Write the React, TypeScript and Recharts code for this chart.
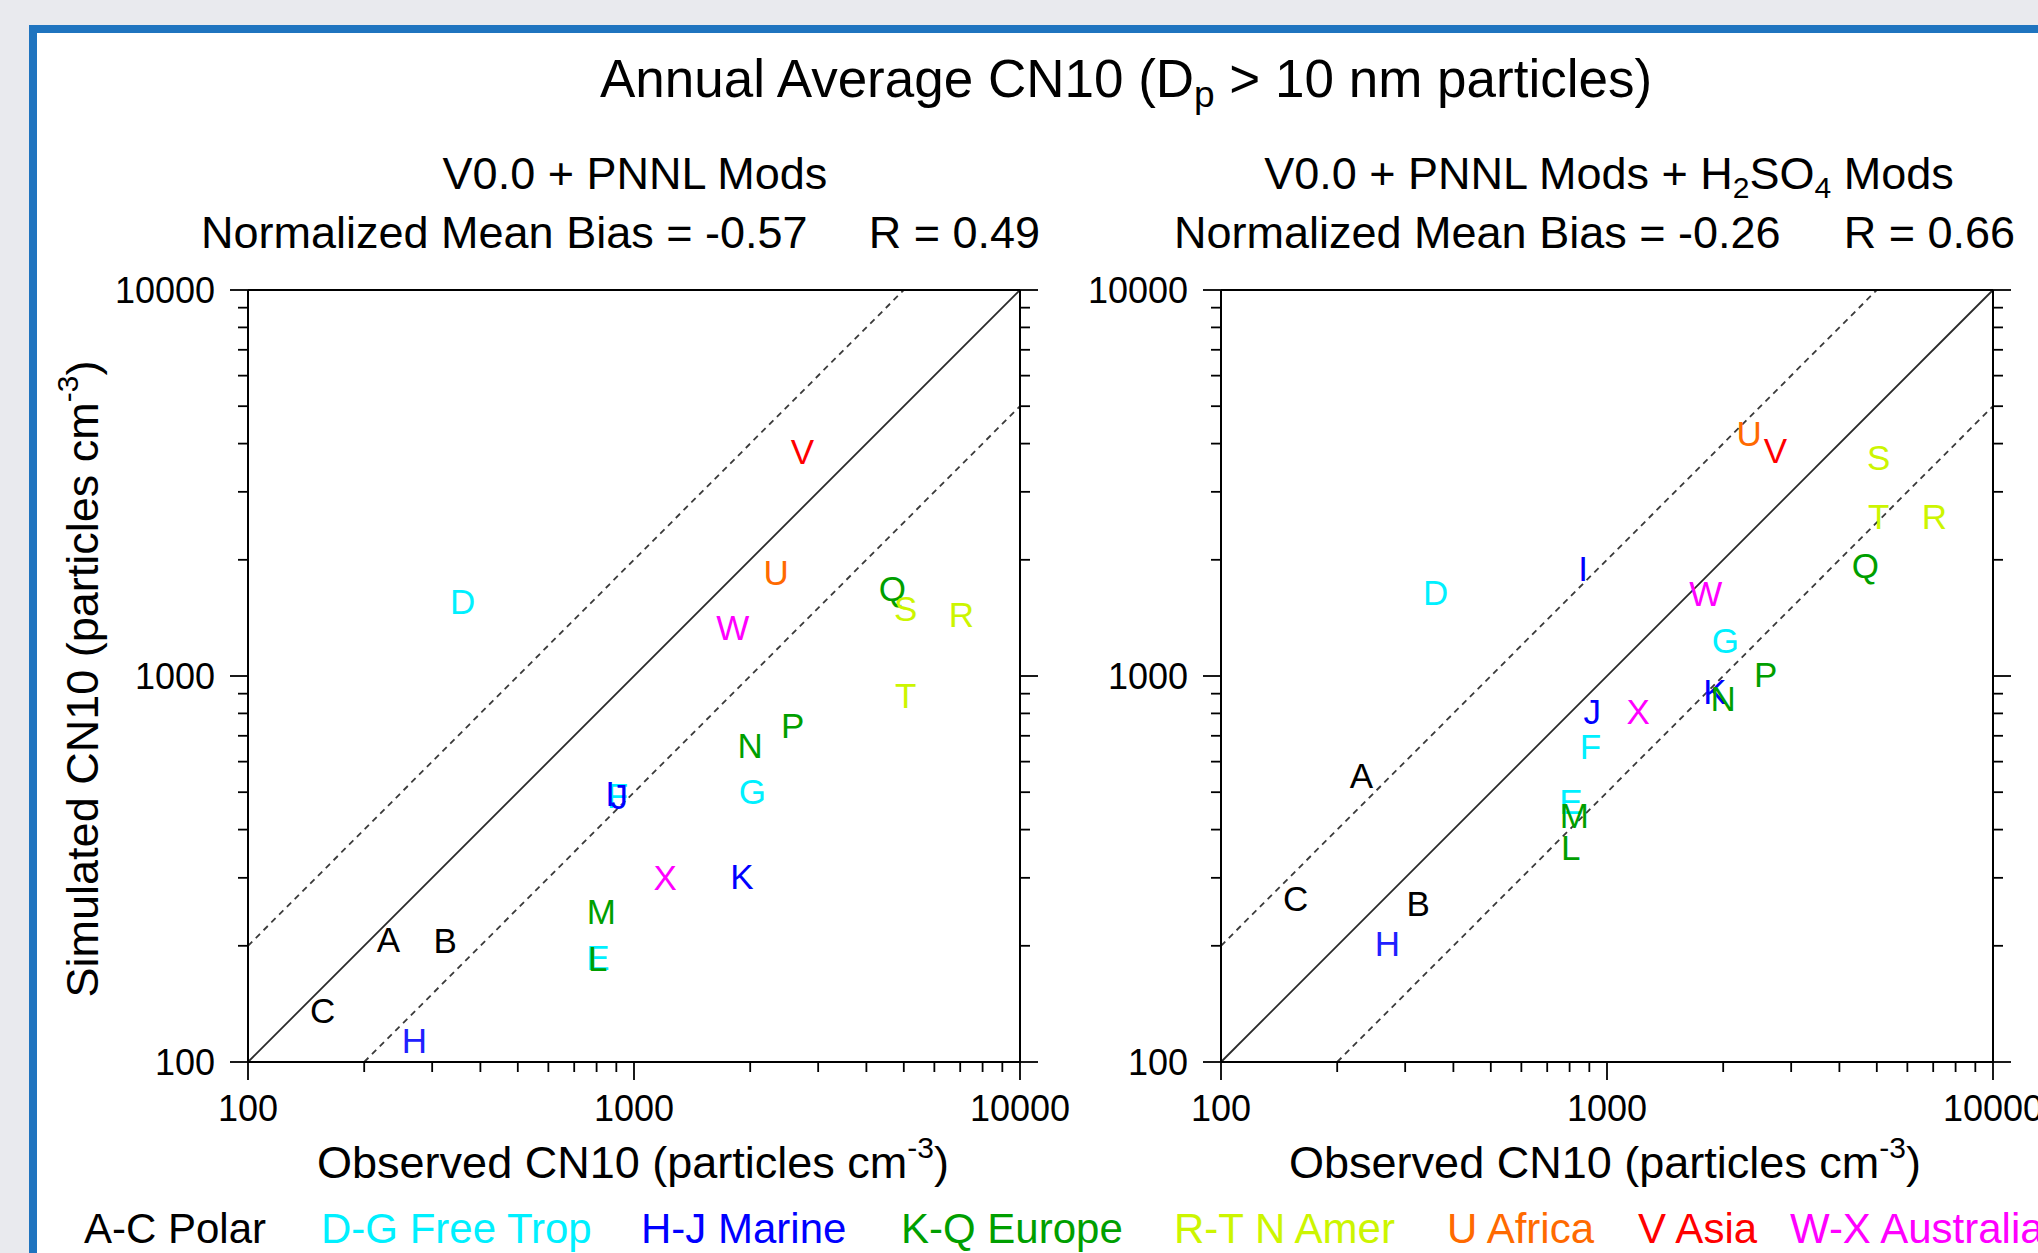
import React from 'react';
import { ScatterChart, Scatter, XAxis, YAxis, ReferenceLine } from 'recharts';

const FONT = '"Liberation Sans", Arial, Helvetica, sans-serif';

const siteLetters = ['A', 'B', 'C', 'D', 'E', 'F', 'G', 'H', 'I', 'J', 'K', 'L', 'M', 'N', 'P', 'Q', 'R', 'S', 'T', 'U', 'V', 'W', 'X'];
const siteColors = [
  '#000000', '#000000', '#000000',
  '#00f0ff', '#00f0ff', '#00f0ff', '#00f0ff',
  '#2020ff', '#0000ff', '#0000ff',
  '#0000ff',
  '#009f00', '#009f00', '#009f00', '#009f00', '#009f00',
  '#ccf500', '#ccf500', '#ccf500',
  '#ff6a00',
  '#ff0000',
  '#ff00ff', '#ff00ff',
];
const observed = [231, 324, 156, 360, 806, 906, 2025, 270, 867, 916, 1903, 805, 823, 2000, 2575, 4670, 7050, 5060, 5060, 2335, 2730, 1803, 1205];
const simPNNL = [208, 206, 136, 1563, 186, 490, 502, 114, 497, 488, 303, 185, 245, 661, 743, 1687, 1445, 1500, 891, 1858, 3811, 1336, 300];
const simH2SO4 = [552, 258, 265, 1648, 472, 656, 1233, 203, 1897, 811, 910, 360, 434, 875, 1009, 1928, 2594, 3681, 2594, 4236, 3828, 1637, 811];

const axisTicks = [100, 200, 300, 400, 500, 600, 700, 800, 900, 1000, 2000, 3000, 4000, 5000, 6000, 7000, 8000, 9000, 10000];
const majorTicks = [100, 1000, 10000];

const legendLabels = ['A-C Polar', 'D-G Free Trop', 'H-J Marine', 'K-Q Europe', 'R-T N Amer', 'U Africa', 'V Asia', 'W-X Australia'];
const legendColors = ['#000000', '#00f0ff', '#0000ff', '#009f00', '#ccf500', '#ff6a00', '#ff0000', '#ff00ff'];
const legendX = [84, 321, 641, 901, 1174, 1447, 1638, 1790];

const isMajor = (v: number) => majorTicks.includes(v);

function makeTick(orient: 'bottom' | 'top' | 'left' | 'right', showLabel: boolean) {
  return (props: any) => {
    const { x, y, payload } = props;
    const v = payload.value as number;
    const len = isMajor(v) ? 18 : 10;
    let line: React.ReactNode = null;
    let label: React.ReactNode = null;
    const ls = { stroke: '#000', strokeWidth: 1.8 };
    if (orient === 'bottom') {
      line = <line x1={x} y1={y} x2={x} y2={y + len} {...ls} />;
      if (showLabel && isMajor(v))
        label = (
          <text x={x} y={y + 59} textAnchor="middle" fontSize={36} fontFamily={FONT} fill="#000">
            {v}
          </text>
        );
    } else if (orient === 'top') {
      line = <line x1={x} y1={y} x2={x} y2={y - len} {...ls} />;
    } else if (orient === 'left') {
      line = <line x1={x} y1={y} x2={x - len} y2={y} {...ls} />;
      if (showLabel && isMajor(v))
        label = (
          <text x={x - 33} y={y + 12.5} textAnchor="end" fontSize={36} fontFamily={FONT} fill="#000">
            {v}
          </text>
        );
    } else {
      line = <line x1={x} y1={y} x2={x + len} y2={y} {...ls} />;
    }
    return (
      <g>
        {line}
        {label}
      </g>
    );
  };
}

const LetterShape = (props: any) => {
  const { cx, cy, payload } = props;
  if (cx == null || cy == null) return null;
  return (
    <text x={cx} y={cy + 12.5} textAnchor="middle" fill={payload.color} fontSize={35} fontFamily={FONT}>
      {payload.letter}
    </text>
  );
};

const axisLineStyle = { stroke: '#000', strokeWidth: 2 };

function Panel({ sim, left, top, extraRight }: { sim: number[]; left: number; top: number; extraRight: number }) {
  const data = siteLetters.map((letter, i) => ({ x: observed[i], y: sim[i], letter, color: siteColors[i] }));
  const w = 148 + 772 + 40 + extraRight;
  const h = 40 + 772 + 88;
  return (
    <div style={{ position: 'absolute', left, top, width: w, height: h }}>
      <ScatterChart width={w} height={h} margin={{ top: 0, right: extraRight, bottom: 0, left: 0 }}>
        <XAxis
          xAxisId="b"
          dataKey="x"
          type="number"
          scale="log"
          domain={[100, 10000]}
          allowDataOverflow
          ticks={axisTicks}
          interval={0}
          orientation="bottom"
          height={88}
          tickLine={false}
          tickSize={0}
          tickMargin={0}
          axisLine={axisLineStyle}
          tick={makeTick('bottom', true)}
        />
        <XAxis
          xAxisId="t"
          type="number"
          scale="log"
          domain={[100, 10000]}
          allowDataOverflow
          ticks={axisTicks}
          interval={0}
          orientation="top"
          height={40}
          tickLine={false}
          tickSize={0}
          tickMargin={0}
          axisLine={axisLineStyle}
          tick={makeTick('top', false)}
        />
        <YAxis
          yAxisId="l"
          dataKey="y"
          type="number"
          scale="log"
          domain={[100, 10000]}
          allowDataOverflow
          ticks={axisTicks}
          interval={0}
          orientation="left"
          width={148}
          tickLine={false}
          tickSize={0}
          tickMargin={0}
          axisLine={axisLineStyle}
          tick={makeTick('left', true)}
        />
        <YAxis
          yAxisId="r"
          type="number"
          scale="log"
          domain={[100, 10000]}
          allowDataOverflow
          ticks={axisTicks}
          interval={0}
          orientation="right"
          width={40}
          tickLine={false}
          tickSize={0}
          tickMargin={0}
          axisLine={axisLineStyle}
          tick={makeTick('right', false)}
        />
        <ReferenceLine
          xAxisId="b"
          yAxisId="l"
          segment={[{ x: 100, y: 100 }, { x: 10000, y: 10000 }]}
          stroke="#2a2a2a"
          strokeWidth={1.8}
          ifOverflow="visible"
        />
        <ReferenceLine
          xAxisId="b"
          yAxisId="l"
          segment={[{ x: 100, y: 200 }, { x: 5000, y: 10000 }]}
          stroke="#3a3a3a"
          strokeWidth={1.8}
          strokeDasharray="6 5"
          ifOverflow="visible"
        />
        <ReferenceLine
          xAxisId="b"
          yAxisId="l"
          segment={[{ x: 200, y: 100 }, { x: 10000, y: 5000 }]}
          stroke="#3a3a3a"
          strokeWidth={1.8}
          strokeDasharray="6 5"
          ifOverflow="visible"
        />
        <Scatter xAxisId="b" yAxisId="l" data={data} shape={LetterShape} isAnimationActive={false} />
      </ScatterChart>
    </div>
  );
}

export default function App() {
  const t = { fontFamily: FONT, fill: '#000' } as const;
  return (
    <div
      style={{
        position: 'fixed',
        left: 0,
        top: 0,
        width: 2038,
        height: 1253,
        overflow: 'hidden',
        background: '#e9eaee',
        fontFamily: FONT,
      }}
    >
      <div
        style={{
          position: 'absolute',
          left: 29,
          top: 25,
          width: 2100,
          height: 1300,
          background: '#ffffff',
          borderLeft: '8px solid #1f74bf',
          borderTop: '8px solid #1f74bf',
          boxSizing: 'border-box',
        }}
      />
      <Panel sim={simPNNL} left={100} top={250} extraRight={60} />
      <Panel sim={simH2SO4} left={1073} top={250} extraRight={60} />
      <svg
        width={2038}
        height={1253}
        style={{ position: 'absolute', left: 0, top: 0, pointerEvents: 'none' }}
      >
        <text x={1126} y={97} textAnchor="middle" fontSize={53} {...t}>
          Annual Average CN10 (D
          <tspan dy={10} fontSize={37}>p</tspan>
          <tspan dy={-10}>{' > 10 nm particles)'}</tspan>
        </text>

        <text x={635} y={189} textAnchor="middle" fontSize={45} {...t}>
          V0.0 + PNNL Mods
        </text>
        <text x={201} y={248} textAnchor="start" fontSize={45} {...t}>
          Normalized Mean Bias = -0.57
        </text>
        <text x={1040} y={248} textAnchor="end" fontSize={45} {...t}>
          R = 0.49
        </text>

        <text x={1609} y={189} textAnchor="middle" fontSize={45} {...t}>
          V0.0 + PNNL Mods + H
          <tspan dy={9} fontSize={30}>2</tspan>
          <tspan dy={-9}>SO</tspan>
          <tspan dy={9} fontSize={30}>4</tspan>
          <tspan dy={-9}>{' Mods'}</tspan>
        </text>
        <text x={1174} y={248} textAnchor="start" fontSize={45} {...t}>
          Normalized Mean Bias = -0.26
        </text>
        <text x={2015} y={248} textAnchor="end" fontSize={45} {...t}>
          R = 0.66
        </text>

        <text x={633} y={1178} textAnchor="middle" fontSize={45} {...t}>
          Observed CN10 (particles cm
          <tspan dy={-20} fontSize={30}>-3</tspan>
          <tspan dy={20}>)</tspan>
        </text>
        <text x={1605} y={1178} textAnchor="middle" fontSize={45} {...t}>
          Observed CN10 (particles cm
          <tspan dy={-20} fontSize={30}>-3</tspan>
          <tspan dy={20}>)</tspan>
        </text>

        <text x={98} y={679} transform="rotate(-90 98 679)" textAnchor="middle" fontSize={45} {...t}>
          Simulated CN10 (particles cm
          <tspan dy={-20} fontSize={30}>-3</tspan>
          <tspan dy={20}>)</tspan>
        </text>

        {legendLabels.map((lab, i) => (
          <text key={lab} x={legendX[i]} y={1243} fontSize={42} fontFamily={FONT} fill={legendColors[i]}>
            {lab}
          </text>
        ))}
      </svg>
    </div>
  );
}
